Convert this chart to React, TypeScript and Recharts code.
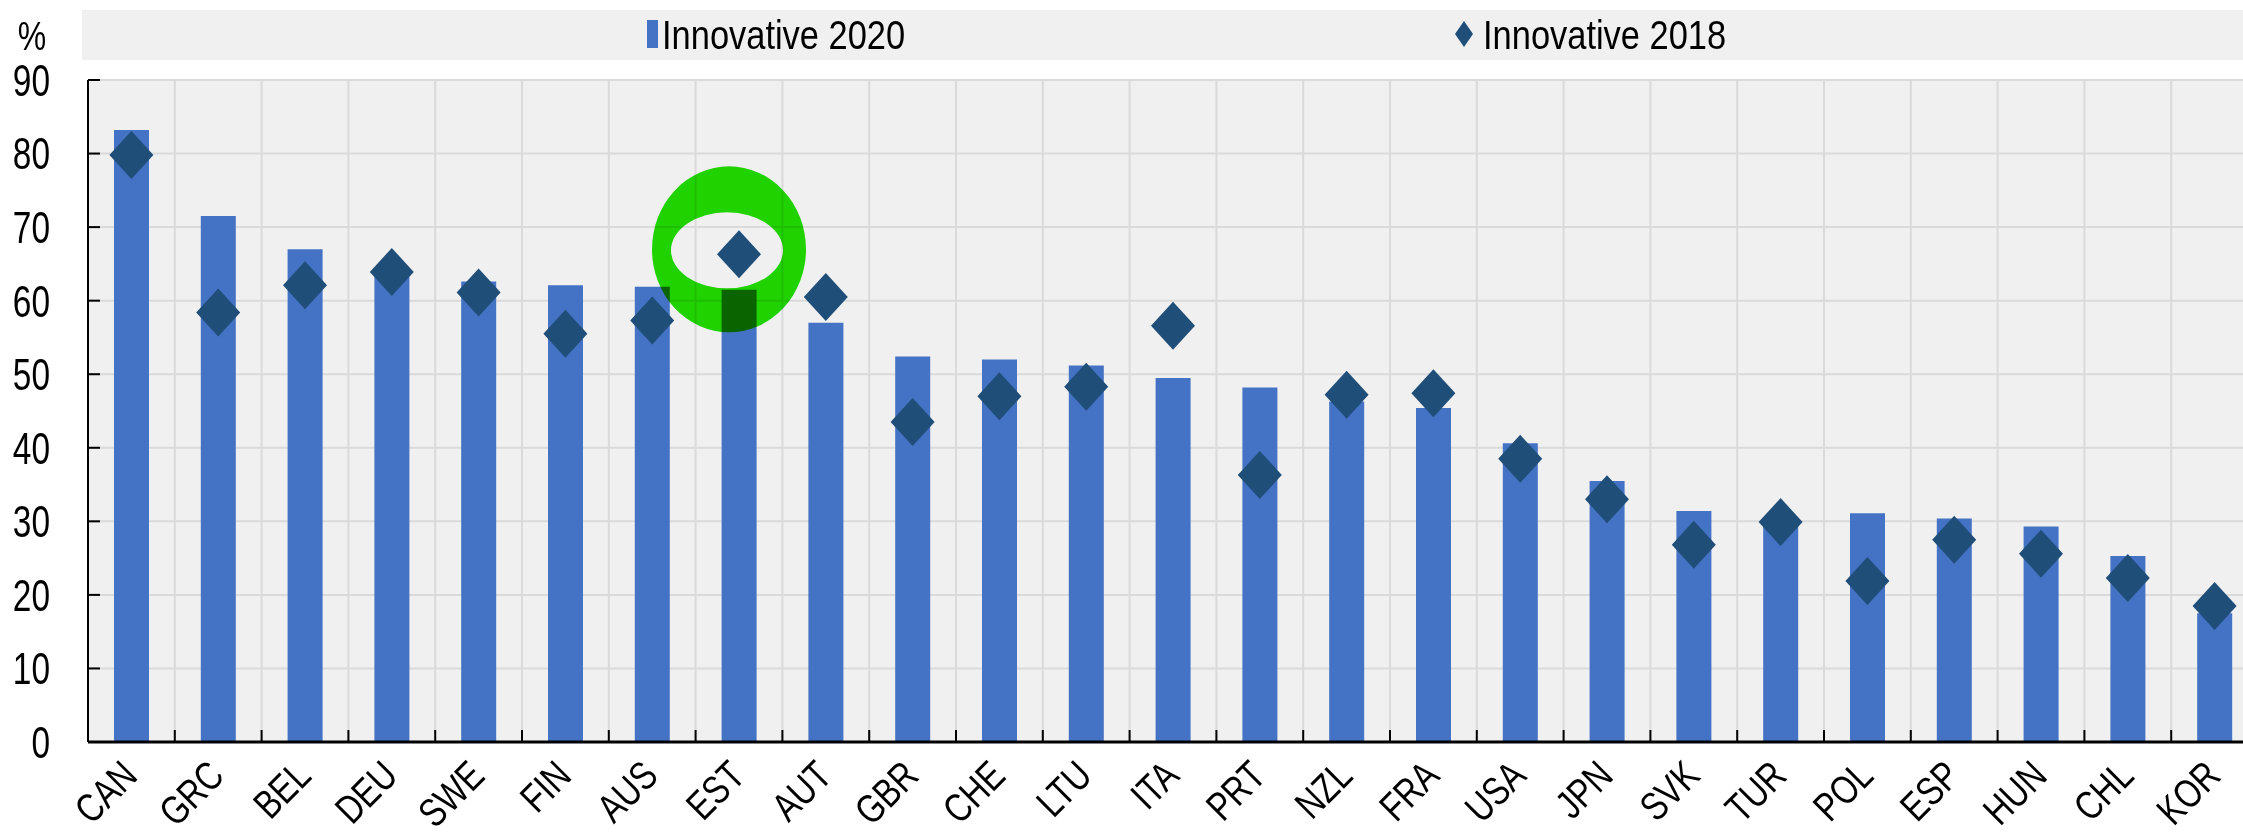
import React from 'react';
import { ComposedChart, Bar, Scatter, XAxis, YAxis, CartesianGrid, Legend, ReferenceDot } from 'recharts';

const countries = ['CAN','GRC','BEL','DEU','SWE','FIN','AUS','EST','AUT','GBR','CHE','LTU','ITA','PRT','NZL','FRA','USA','JPN','SVK','TUR','POL','ESP','HUN','CHL','KOR'];
const innovative2020 = [83.2,71.5,67.0,63.3,62.6,62.1,61.9,61.5,57.0,52.4,52.0,51.2,49.5,48.2,46.3,45.4,40.6,35.5,31.4,29.5,31.1,30.4,29.3,25.3,17.5];
const innovative2018 = [79.8,58.4,62.1,63.9,61.1,55.5,57.3,66.3,60.5,43.5,47.0,48.3,56.6,36.3,47.2,47.4,38.5,33.0,26.8,29.9,21.9,27.5,25.6,22.3,18.5];
const yTicks = [0,10,20,30,40,50,60,70,80,90];
const seriesNames = ['Innovative 2020','Innovative 2018'];
const unitLabel = '%';
const highlightCountry = 'EST';

const data = countries.map((c, i) => ({ country: c, v2020: innovative2020[i], v2018: innovative2018[i], idx: i + 0.5 }));
const gridTicks = Array.from({ length: countries.length + 1 }, (_, i) => i);
const highlightValue = innovative2018[countries.indexOf(highlightCountry)];

const FONT = "'Liberation Sans', Arial, sans-serif";
const BAR = '#4472C4';
const DIAMOND = '#1F4E79';

const YTick = (props: any) => {
  const { x, y, payload } = props;
  return (
    <g>
      <line x1={x + 38} x2={x + 50} y1={y} y2={y} stroke="#000" strokeWidth={2} />
      <text transform={`translate(${x},${y}) scale(0.76,1)`} dy="0.36em" textAnchor="end" fontFamily={FONT} fontSize={44} fill="#000">{payload.value}</text>
    </g>
  );
};

const XTick = (props: any) => {
  const { x, y, payload, index } = props;
  const off = payload && payload.offset ? payload.offset : 43.4;
  return (
    <g>
      {index > 0 && <line x1={x - off} x2={x - off} y1={y - 12} y2={y} stroke="#000" strokeWidth={2} />}
      <text transform={`translate(${x + 8},${y + 36}) rotate(-45) scale(0.8,1)`} textAnchor="end" fontFamily={FONT} fontSize={40} fill="#000">{payload.value}</text>
    </g>
  );
};

const Diamond = (props: any) => {
  const { cx, cy } = props;
  if (cx == null || cy == null) return null;
  return <polygon points={`${cx},${cy - 24} ${cx + 22},${cy} ${cx},${cy + 24} ${cx - 22},${cy}`} fill={DIAMOND} />;
};

const Ring = (props: any) => {
  const { cx, cy } = props;
  if (cx == null || cy == null) return null;
  const ox = cx - 10, oy = cy - 5, orx = 77, ory = 83;
  const ix = cx - 12, iy = cy - 4, irx = 56, iry = 38;
  const d = `M ${ox - orx} ${oy} a ${orx} ${ory} 0 1 0 ${2 * orx} 0 a ${orx} ${ory} 0 1 0 ${-2 * orx} 0 Z ` +
    `M ${ix - irx} ${iy} a ${irx} ${iry} 0 1 0 ${2 * irx} 0 a ${irx} ${iry} 0 1 0 ${-2 * irx} 0 Z`;
  return <path d={d} fill="#22E000" fillRule="evenodd" style={{ mixBlendMode: 'multiply' }} />;
};

const legendText: React.CSSProperties = {
  position: 'absolute', top: 0, lineHeight: '50px', whiteSpace: 'nowrap',
  transform: 'scaleX(0.84)', transformOrigin: 'left center',
};

const LegendContent = () => (
  <div style={{ position: 'relative', width: '100%', height: 50, background: '#f0f0f0', fontFamily: FONT, fontSize: 41, color: '#000' }}>
    <div style={{ position: 'absolute', left: 565, top: 10, width: 11, height: 28, background: BAR }} />
    <div style={{ ...legendText, left: 580 }}>{seriesNames[0]}</div>
    <svg style={{ position: 'absolute', left: 1373, top: 11 }} width={18} height={26}>
      <polygon points="9,0 18,13 9,26 0,13" fill={DIAMOND} />
    </svg>
    <div style={{ ...legendText, left: 1401 }}>{seriesNames[1]}</div>
  </div>
);

const YLabel = (props: any) => {
  const { viewBox } = props;
  return <text transform={`translate(${viewBox.x + 32},${viewBox.y - 30}) scale(0.8,1)`} textAnchor="middle" fontFamily={FONT} fontSize={40} fill="#000">{unitLabel}</text>;
};

export default function App() {
  return (
    <div style={{ position: 'absolute', left: 0, top: 0, width: 2243, height: 838, overflow: 'hidden', background: '#fff' }}>
      <ComposedChart width={2270} height={838} data={data} margin={{ top: 30, right: 12, bottom: 0, left: 0 }} barCategoryGap={0}>
        <Legend verticalAlign="top" align="left" height={50} wrapperStyle={{ top: 10, left: 82, width: 2200, height: 50 }} content={<LegendContent />} />
        <CartesianGrid xAxisId="grid" stroke="#dadada" strokeWidth={2} fill="#f0f0f0" />
        <XAxis dataKey="country" interval={0} tickLine={false} tickSize={0} tickMargin={0} height={96}
          axisLine={{ stroke: '#000', strokeWidth: 3 }} tick={<XTick />} />
        <XAxis xAxisId="grid" dataKey="idx" type="number" domain={[0, countries.length]} ticks={gridTicks} allowDataOverflow hide />
        <YAxis domain={[0, 90]} ticks={yTicks} interval={0} width={88} tickLine={false} tickSize={0} tickMargin={38}
          axisLine={{ stroke: '#000', strokeWidth: 2 }} tick={<YTick />} label={<YLabel />} />
        <Bar dataKey="v2020" name={seriesNames[0]} fill={BAR} barSize={35} isAnimationActive={false} />
        <Scatter dataKey="v2018" name={seriesNames[1]} shape={<Diamond />} isAnimationActive={false} />
        <ReferenceDot x={highlightCountry} y={highlightValue} shape={<Ring />} ifOverflow="visible" />
      </ComposedChart>
    </div>
  );
}
